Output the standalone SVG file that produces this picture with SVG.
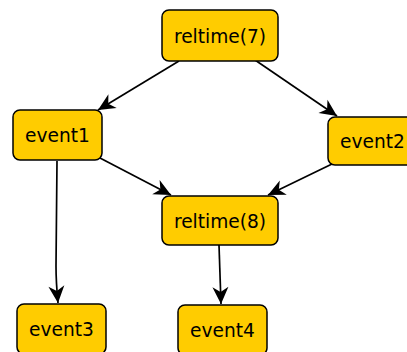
<svg xmlns="http://www.w3.org/2000/svg" width="407" height="352" viewBox="0 0 407 352">
  <style>
    .node rect { fill: #FFCC00; stroke: #000; stroke-width: 1.5; }
    .node text { font-family: "DejaVu Sans", "Liberation Sans", sans-serif; font-size: 18.6px; fill: #000; text-anchor: middle; }
    .edge { fill: none; stroke: #000; stroke-width: 1.7; marker-end: url(#arrow); }
  </style>
  <defs>
    <marker id="arrow" markerUnits="userSpaceOnUse" markerWidth="22" markerHeight="20" viewBox="-19 -10 21 20" refX="0" refY="0" orient="auto">
      <path d="M0,0 L-17,-8 L-12,0 L-17,8 Z" fill="#000"/>
    </marker>
  </defs>

  <g id="connectors">
    <path class="edge" d="M179,61 L98,110"/>
    <path class="edge" d="M255,60 L337,116"/>
    <path class="edge" d="M100,158 L171,195"/>
    <path class="edge" d="M332,164 L268,195"/>
    <path class="edge" d="M57,161 L56,266 Q56,282 58,303"/>
    <path class="edge" d="M219,245 L221,304"/>
  </g>

  <g id="reltime7" class="node">
    <rect x="162" y="10" width="116" height="51" rx="7"/>
    <text x="220" y="42.5">reltime(7)</text>
  </g>
  <g id="event1" class="node">
    <rect x="13" y="110" width="89" height="50" rx="7"/>
    <text x="57.5" y="142">event1</text>
  </g>
  <g id="event2" class="node">
    <rect x="328" y="117" width="89" height="48" rx="7"/>
    <text x="372.5" y="148">event2</text>
  </g>
  <g id="reltime8" class="node">
    <rect x="162" y="196" width="116" height="49" rx="7"/>
    <text x="220" y="228">reltime(8)</text>
  </g>
  <g id="event3" class="node">
    <rect x="17" y="304" width="89" height="50" rx="7"/>
    <text x="61.5" y="336">event3</text>
  </g>
  <g id="event4" class="node">
    <rect x="178" y="305" width="89" height="50" rx="7"/>
    <text x="222.5" y="337">event4</text>
  </g>
</svg>
